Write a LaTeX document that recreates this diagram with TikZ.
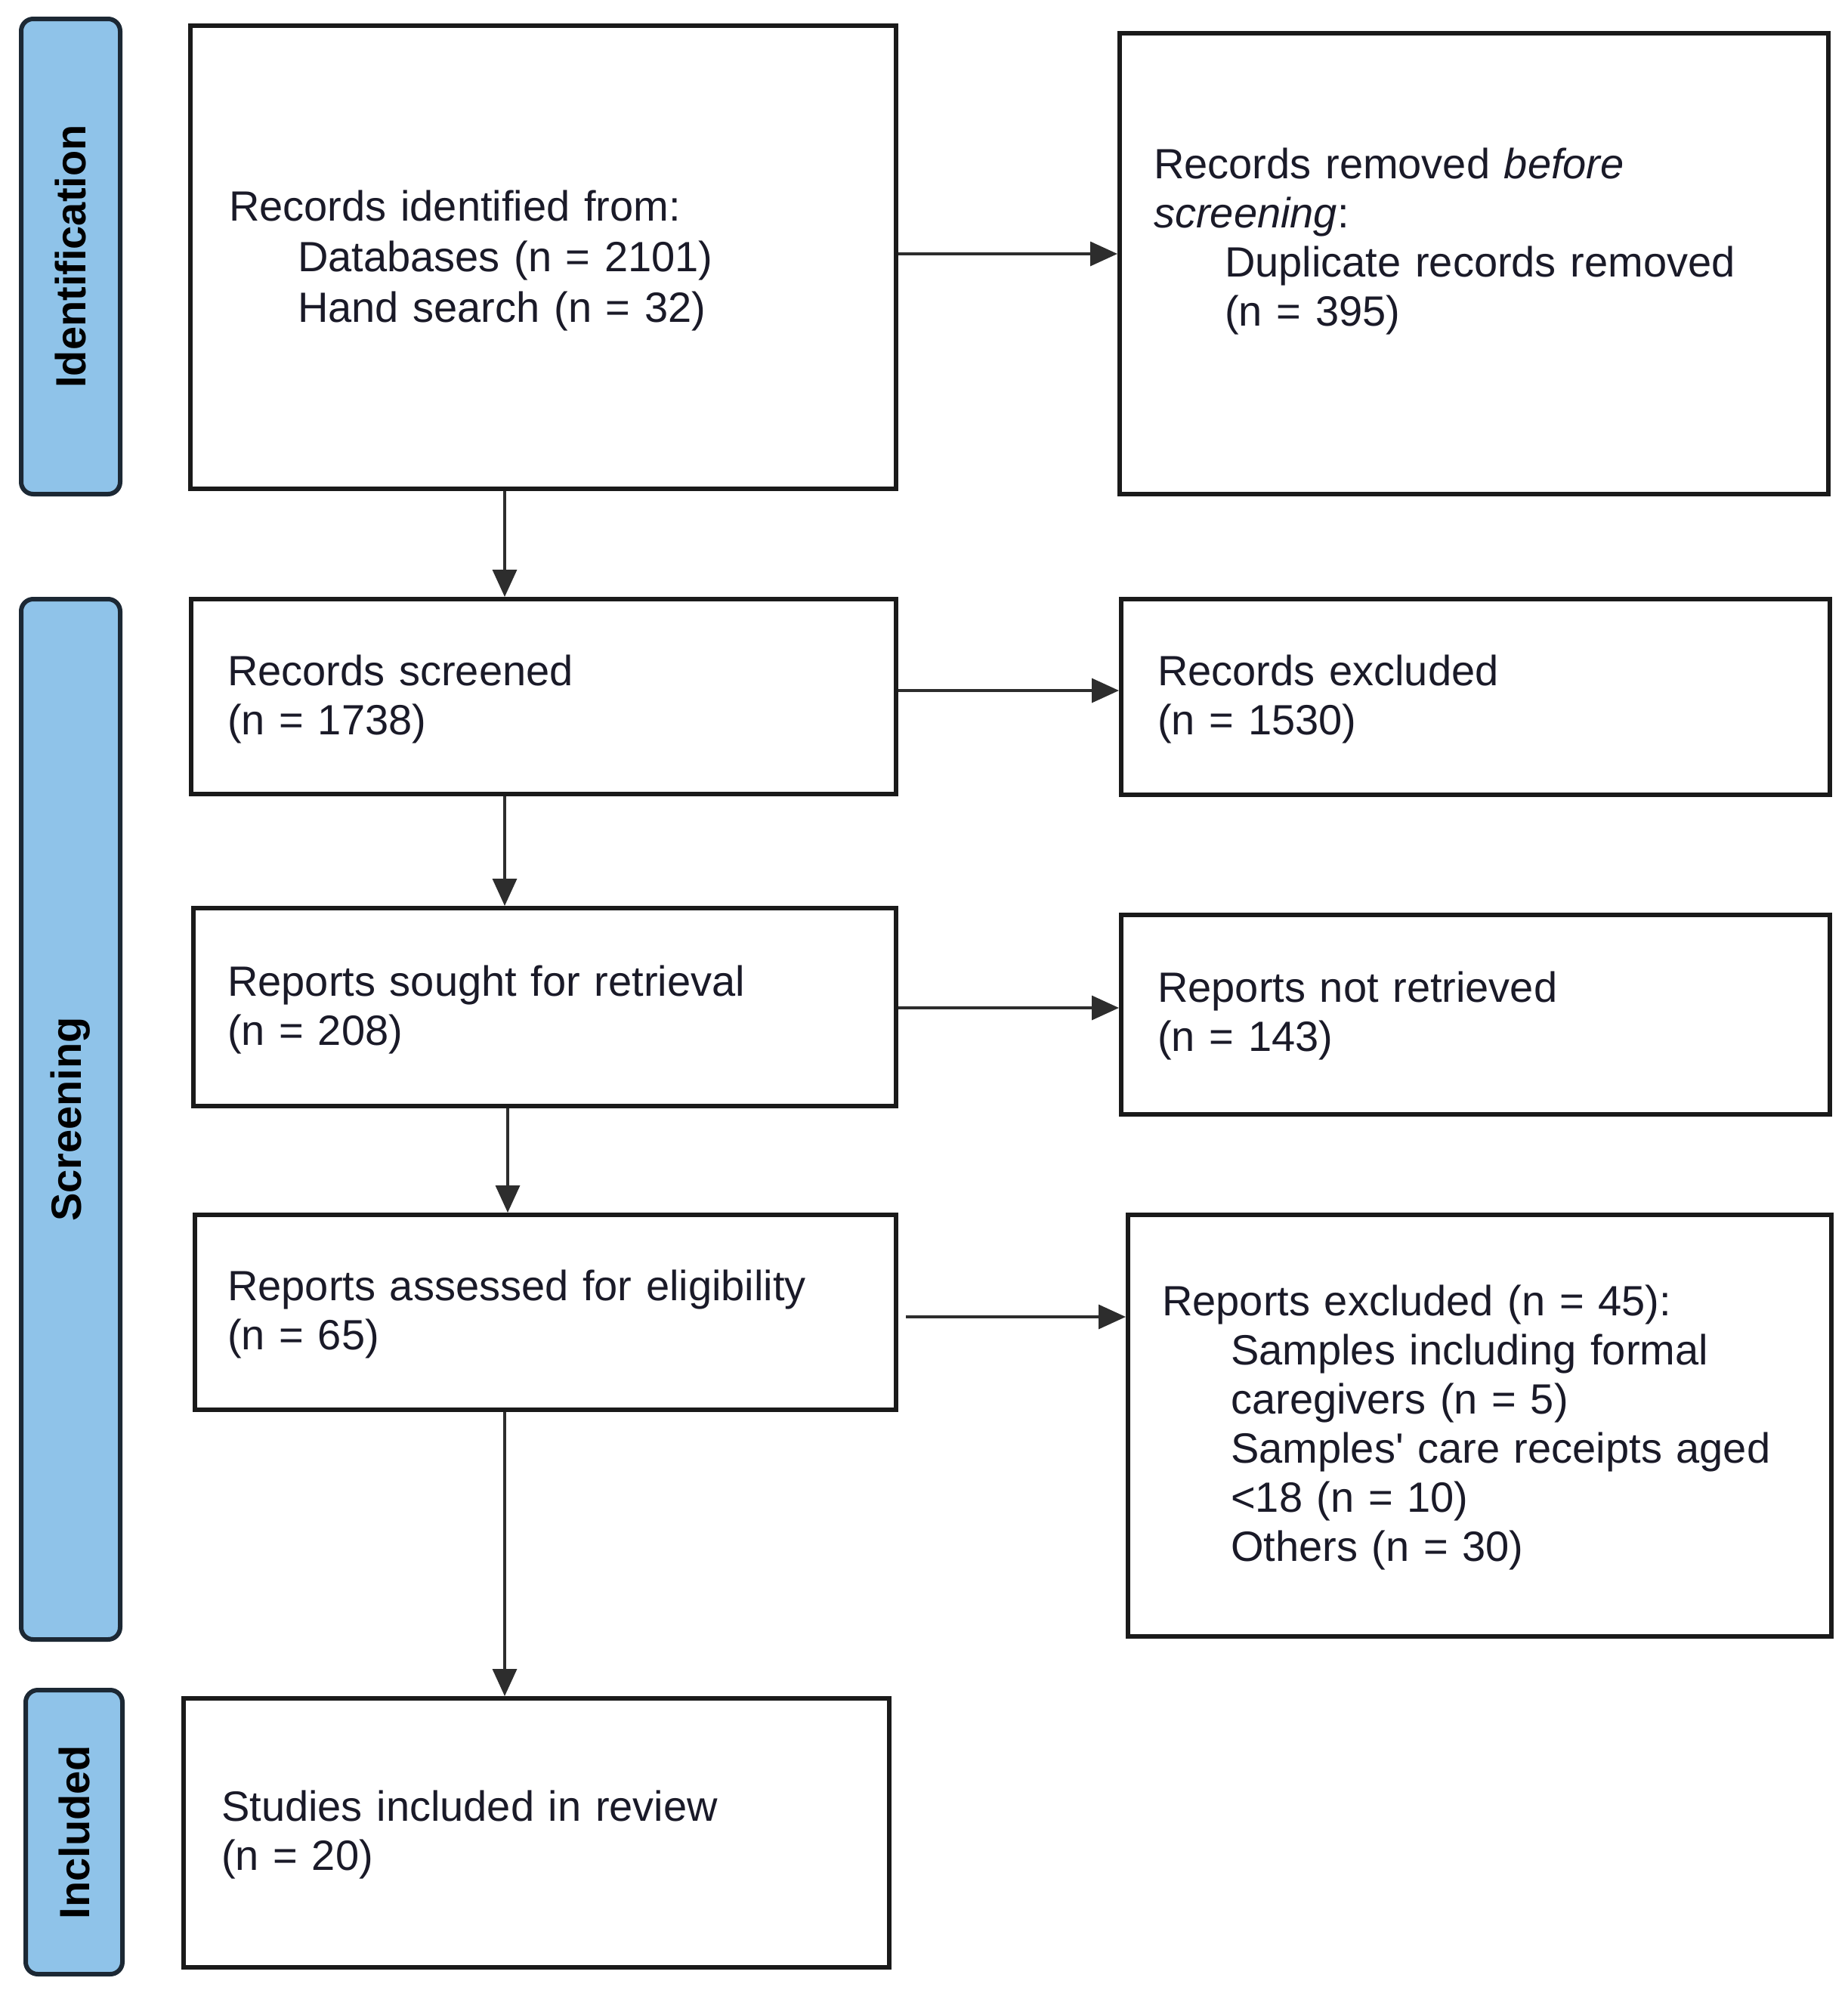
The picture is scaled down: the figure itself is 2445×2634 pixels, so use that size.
\documentclass[tikz,border=0pt]{standalone}
\usepackage{fontspec}
\setmainfont{Liberation Sans}[Ligatures=TeXOff]
\usetikzlibrary{arrows.meta}
\definecolor{sideblue}{RGB}{143,195,233}
\definecolor{sideedge}{RGB}{28,40,52}
\definecolor{txtcol}{RGB}{26,26,40}
\definecolor{edgecol}{RGB}{26,26,26}
\definecolor{arrcol}{RGB}{45,45,45}
\begin{document}
\begin{tikzpicture}[x=1pt,y=-1pt,
  box/.style={draw=edgecol, line width=6pt, fill=white, anchor=north west, inner sep=0pt},
  side/.style={draw=sideedge, line width=6pt, fill=sideblue, rounded corners=16pt, anchor=north west, inner sep=0pt},
  sidetxt/.style={font={\fontsize{56}{64}\selectfont\bfseries}, text=black, rotate=90, inner sep=0pt},
  txt/.style={font={\fontsize{56}{65}\selectfont}, text=txtcol, anchor=base west, align=left, inner sep=0pt, text width=#1},
  txt/.default=830pt,
  arr/.style={draw=arrcol, line width=3.5pt, -{Triangle[length=36pt,width=32pt]}}]
\useasboundingbox (0,0) rectangle (2445,2634);
\fill[white] (0,0) rectangle (2445,2634);

% phase bars
\node[side, minimum width=131pt, minimum height=629pt] (sid) at (25,22) {};
\node[sidetxt] (sidl) at (sid.center) {Identification};
\node[side, minimum width=131pt, minimum height=1377pt] (ssc) at (25,790) {};
\node[sidetxt] (sscl) at (ssc.center) {Screening};
\node[side, minimum width=128pt, minimum height=376pt] (sin) at (31,2234) {};
\node[sidetxt] (sinl) at (sin.center) {Included};

% boxes
\node[box, minimum width=934pt, minimum height=613pt] (b1) at (249,31) {};
\node[box, minimum width=938pt, minimum height=610pt] (r1) at (1479,41) {};
\node[box, minimum width=933pt, minimum height=258pt] (b2) at (250,790) {};
\node[box, minimum width=938pt, minimum height=259pt] (r2) at (1481,790) {};
\node[box, minimum width=930pt, minimum height=262pt] (b3) at (253,1199) {};
\node[box, minimum width=938pt, minimum height=264pt] (r3) at (1481,1208) {};
\node[box, minimum width=928pt, minimum height=258pt] (b4) at (255,1605) {};
\node[box, minimum width=931pt, minimum height=558pt] (r4) at (1490,1605) {};
\node[box, minimum width=934pt, minimum height=356pt] (b5) at (240,2245) {};

% texts
\node[txt, font={\fontsize{56}{67}\selectfont}] (t1) at (303,292) {Records identified from:\\\hspace*{91pt}Databases (n = 2101)\\\hspace*{91pt}Hand search (n = 32)};
\node[txt] (tr1) at (1527,236) {Records removed \textit{before}\\\textit{screening}:\\\hspace*{94pt}Duplicate records removed\\\hspace*{94pt}(n = 395)};
\node[txt] (t2) at (301,907) {Records screened\\(n = 1738)};
\node[txt] (tr2) at (1532,907) {Records excluded\\(n = 1530)};
\node[txt] (t3) at (301,1318) {Reports sought for retrieval\\(n = 208)};
\node[txt] (tr3) at (1532,1326) {Reports not retrieved\\(n = 143)};
\node[txt] (t4) at (301,1721) {Reports assessed for eligibility\\(n = 65)};
\node[txt] (tr4) at (1538,1741) {Reports excluded (n = 45):\\\hspace*{91pt}Samples including formal\\\hspace*{91pt}caregivers (n = 5)\\\hspace*{91pt}Samples' care receipts aged\\\hspace*{91pt}<18 (n = 10)\\\hspace*{91pt}Others (n = 30)};
\node[txt] (t5) at (293,2410) {Studies included in review\\(n = 20)};

% arrow guide coordinates
\coordinate (ax1) at (668,0);
\coordinate (ax2) at (672,0);
\coordinate (ay1) at (0,336);
\coordinate (ay2) at (0,914);
\coordinate (ay3) at (0,1334);
\coordinate (ay4) at (0,1743);

% vertical arrows
\draw[arr] (b1.south -| ax1) -- (b2.north -| ax1);
\draw[arr] (b2.south -| ax1) -- (b3.north -| ax1);
\draw[arr] (b3.south -| ax2) -- (b4.north -| ax2);
\draw[arr] (b4.south -| ax1) -- (b5.north -| ax1);

% horizontal arrows
\draw[arr] (b1.east |- ay1) -- (r1.west |- ay1);
\draw[arr] (b2.east |- ay2) -- (r2.west |- ay2);
\draw[arr] (b3.east |- ay3) -- (r3.west |- ay3);
\draw[arr, shorten <=10pt] (b4.east |- ay4) -- (r4.west |- ay4);
\end{tikzpicture}
\end{document}
